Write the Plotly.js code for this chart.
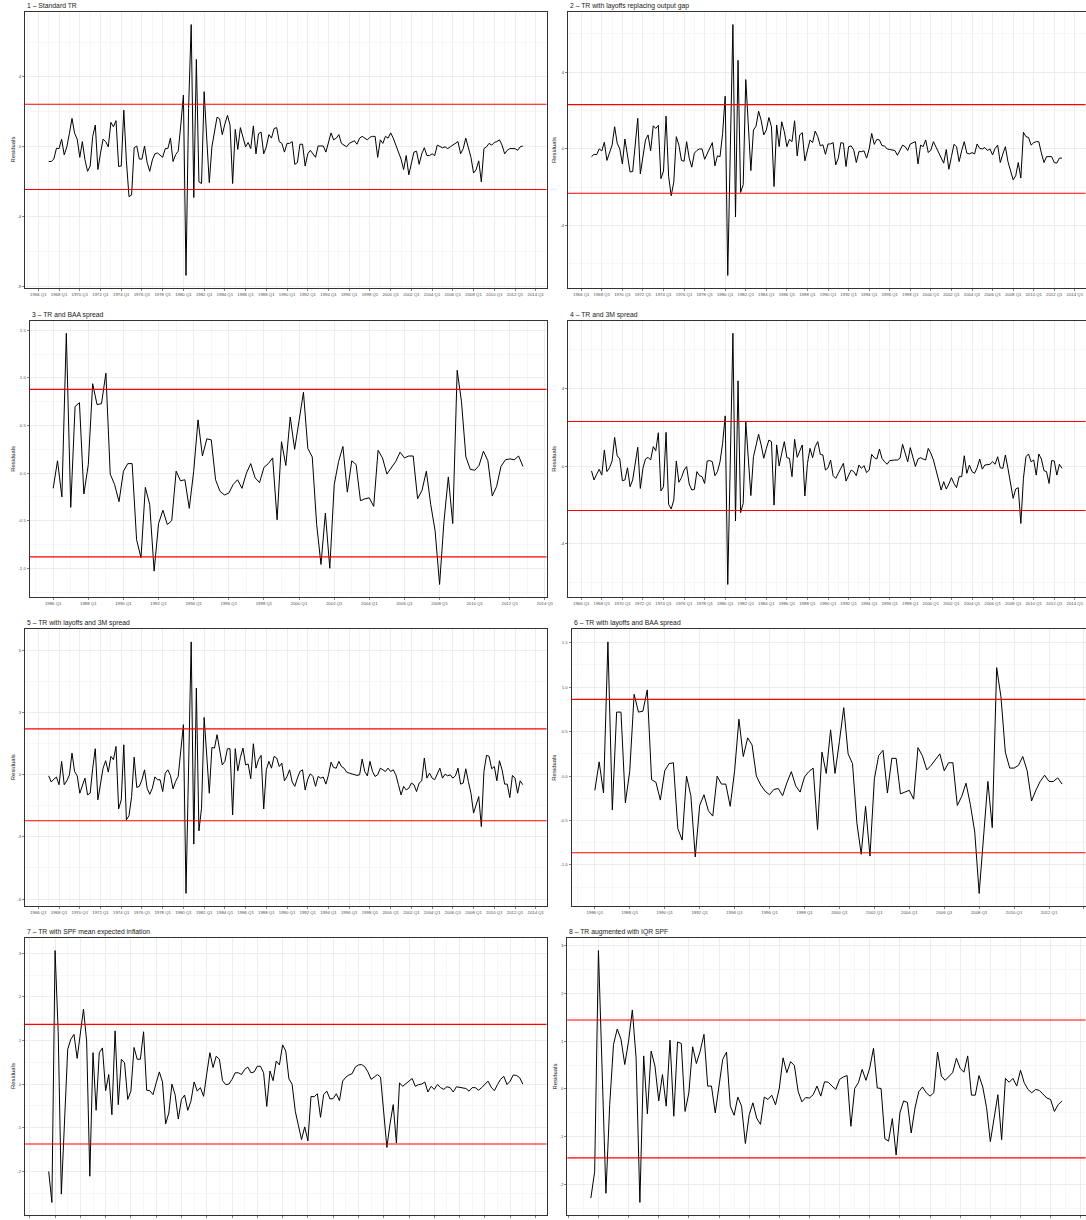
<!DOCTYPE html>
<html>
<head>
<meta charset="utf-8">
<script src="https://cdn.plot.ly/plotly-3.0.1.min.js"></script>
<style>
  html, body { margin: 0; padding: 0; background: #fff; }
  #chart { width: 1086px; height: 1220px; }
</style>
</head>
<body>
<div id="chart"></div>
<script>
// ---- Panel titles ----
const titles = [
  "1 \u2013 Standard TR",
  "2 \u2013 TR with layoffs replacing output gap",
  "3 \u2013 TR and BAA spread",
  "4 \u2013 TR and 3M spread",
  "5 \u2013 TR with layoffs and 3M spread",
  "6 \u2013 TR with layoffs and BAA spread",
  "7 \u2013 TR with SPF mean expected inflation",
  "8 \u2013 TR augmented with IQR SPF"
];

// ---- First quarter of each residual series ----
const startQuarters = ["1967 Q1", "1967 Q1", "1986 Q1", "1967 Q1", "1967 Q1", "1986 Q1", "1981 Q3", "1981 Q3"];

// ---- Residual series (quarterly) ----
const resid1 = [
  -0.84, -0.84, -0.7, -0.08,   -0.1, 0.44, -0.46, 0.0,   0.78, 1.63, 0.78, 0.44,
  -0.6, 0.3, -0.74, -1.4,      -1.1, 0.6, 1.25, -1.3,    -0.36, 0.44, 0.3, 0.0,
  1.4, 1.15, 1.5, -1.12,       -1.1, 2.1, -0.8, -2.85,   -2.75, -0.05, 0.05, -0.7,
  -0.7, 0.05, -0.9, -1.4,      -0.75, -0.4, -0.35, -0.45, -0.6, -0.1, -0.1, 0.5,
  -0.84, -0.45, -0.25, 1.25,   2.96, -7.36, 2.2, 7.0,    -2.9, 5.0, -2.0, -2.1,
  3.16, 0.5, -2.05, 0.0,       1.0, 1.7, 1.6, 0.7,       1.3, 1.8, 1.25, -2.1,
  1.0, -0.15, 1.1, 0.6,        0.0, 0.25, -0.1, 1.2,     -0.4, 0.75, 0.85, -0.4,
  0.0, 0.7, 0.5, 1.05,         1.1, 0.3, 0.2, -0.3,      0.2, 0.2, 0.3, -1.0,
  -0.9, 0.15, 0.15, -1.1,      -0.4, -0.2, -0.4, -0.6,   0.05, 0.05, 0.05, -0.3,
  0.2, 0.8, 0.4, 0.5,          0.7, 0.2, 0.1, 0.0,       0.2, 0.3, 0.35, 0.15,
  0.5, 0.6, 0.5, 0.4,          0.55, 0.6, 0.6, -0.6,     0.4, 0.2, 0.6, 0.5,
  0.8, 0.5, 0.1, -0.3,         -0.7, -1.3, -0.5, -1.6,   -0.9, -0.3, -0.25, -1.0,
  -0.4, -0.05, -0.5, -0.5,     -0.4, -0.5, 0.1, 0.0,     -0.05, 0.0, -0.1, 0.0,
  0.1, 0.2, 0.3, -0.4,         -0.1, 0.5, -0.05, -0.6,   -1.5, -1.3, -0.8, -2.0,
  -0.1, 0.0, 0.2, 0.1,         0.25, 0.3, 0.4, 0.1,      -0.4, -0.2, -0.1, -0.1,
  -0.1, -0.2, 0.0, 0.05
];

const resid2 = [
  -0.4, -0.28, -0.3, 0.0,      -0.1, 0.35, -0.6, -0.25,  0.2, 1.16, 0.3, 0.0,
  -0.78, 0.52, -0.36, -1.2,    -1.18, 0.3, 1.6, -1.3,    -0.4, 0.47, 0.73, -0.1,
  1.21, 1.07, 1.23, -1.55,     -1.15, 1.71, -1.43, -2.44, -1.73, 0.64, 0.2, -0.6,
  -0.64, 0.38, -0.48, -0.95,   -0.22, -0.08, 0.0, 0.0,   -0.54, -0.22, 0.05, 0.33,
  -0.88, -0.36, -0.4, 0.81,    2.75, -6.6, 0.0, 6.49,    -3.55, 4.62, -2.27, -1.87,
  3.62, 1.2, -1.13, 0.99,      1.19, 1.97, 1.5, 0.73,    0.99, 1.64, 1.16, -1.96,
  1.25, 0.12, 1.42, 0.9,       0.12, 0.5, 0.38, 1.47,    -0.36, 0.73, 0.85, -0.62,
  -0.14, 0.47, 0.33, 0.93,     0.64, 0.16, 0.22, -0.28,  0.26, 0.26, 0.33, -0.83,
  -0.48, 0.33, 0.3, -0.92,     0.12, 0.16, -0.05, -0.71, -0.14, -0.14, -0.1, -0.48,
  0.0, 0.81, 0.24, 0.5,        0.47, 0.17, 0.16, 0.0,    -0.03, -0.05, -0.08, -0.33,
  -0.05, 0.2, 0.12, -0.08,     0.26, 0.3, 0.38, -0.78,   0.2, 0.12, 0.47, -0.19,
  -0.05, 0.38, 0.12, -0.22,    -0.48, -0.74, -0.03, -1.06, -0.4, 0.24, 0.12, -0.66,
  -0.08, 0.38, -0.22, -0.26,   -0.19, -0.26, 0.26, 0.03, 0.0, 0.07, -0.08, 0.0,
  -0.31, 0.03, 0.2, -0.71,     -0.26, 0.12, -0.66, -1.13, -1.61, -1.4, -0.71, -1.52,
  0.87, 0.64, 0.6, 0.2,        0.33, 0.38, 0.38, -0.22,  -0.71, -0.4, -0.4, -0.4,
  -0.71, -0.74, -0.48, -0.48
];

const resid3 = [
  -0.16, 0.13, -0.25, 1.47,    -0.36, 0.70, 0.74, -0.22, 0.09, 0.94, 0.72, 0.73,
  1.05, -0.01, -0.12, -0.30,   0.02, 0.1, 0.1, -0.70,    -0.89, -0.15, -0.33, -1.03,
  -0.53, -0.39, -0.54, -0.5,   0.02, -0.08, -0.07, -0.37, 0.02, 0.56, 0.18, 0.36,
  0.35, -0.07, -0.19, -0.23,   -0.21, -0.12, -0.07, -0.16, 0.0, 0.1, -0.05, -0.1,
  0.06, 0.1, 0.16, -0.49,      0.33, 0.08, 0.59, 0.25,   0.55, 0.85, 0.26, 0.17,
  -0.54, -0.96, -0.42, -1.0,   -0.12, 0.12, 0.28, -0.2,  0.13, 0.09, -0.29, -0.27,
  -0.26, -0.35, 0.24, 0.16,    -0.01, 0.06, 0.12, 0.22,  0.16, 0.18, 0.18, -0.27,
  -0.18, 0.02, -0.33, -0.61,   -1.17, -0.51, -0.04, -0.53, 1.08, 0.75, 0.17, 0.04,
  0.03, 0.08, 0.23, 0.13,      -0.24, -0.14, 0.07, 0.14, 0.15, 0.14, 0.18, 0.07
];

const resid4 = [
  -0.26, -0.72, -0.43, -0.17,  -0.47, 0.83, -0.29, -0.09, 0.26, 1.48, 0.53, 0.36,
  -0.76, -0.72, -0.09, -1.07,  -0.72, 0.22, 0.97, -1.16, -0.12, 0.36, 0.45, 0.31,
  1.0, 0.79, 1.72, -1.29,      -1.07, 1.74, -1.98, -2.22, -1.76, 0.26, -0.84, -0.6,
  -0.21, -0.03, -0.93, -1.24,  -1.21, -0.29, -0.5, -0.55, -0.9, 0.26, 0.28, 0.22,
  -0.5, -0.29, 0.22, 1.17,     2.59, -6.12, 0.5, 6.86,   -2.84, 4.4, -2.41, -1.93,
  2.29, 0.4, -1.53, 0.48,      1.09, 1.64, 1.09, 0.4,    0.91, 1.34, 1.26, -2.02,
  1.09, 0.0, 0.66, 1.26,       0.43, 0.4, -0.55, 1.38,   0.45, 0.74, 1.09, -1.55,
  0.14, 0.91, 0.43, 1.0,       1.26, 0.6, 0.57, -0.21,   -0.09, 0.31, -0.5, -0.64,
  -0.38, -0.09, 0.14, -0.78,   -0.5, -0.21, -0.29, -0.5, 0.05, -0.12, 0.02, -0.34,
  -0.21, 0.6, 0.43, 0.36,      0.88, 0.4, 0.22, 0.09,    0.28, 0.31, 0.31, 0.31,
  0.4, 1.12, 0.6, 0.22,        0.95, 0.48, -0.02, 0.36,  0.43, 0.36, 0.31, 0.91,
  0.66, 0.31, -0.16, -0.72,    -1.24, -0.81, -1.19, -0.93, -0.6, -0.9, -1.12, -0.55,
  -0.55, 0.53, -0.38, 0.05,    -0.29, -0.38, -0.09, 0.36, -0.16, 0.05, 0.09, 0.09,
  0.22, 0.09, 0.48, -0.09,     -0.12, 0.57, -0.12, -0.98, -1.67, -1.19, -1.12, -2.97,
  -0.64, 0.48, 0.62, 0.22,     0.31, -0.47, 0.62, 0.36,  -0.24, -0.29, -0.9, 0.28,
  0.26, -0.47, 0.09, -0.12
];

const resid5 = [
  -0.05, -0.35, -0.21, -0.11,  -0.48, 0.65, -0.48, -0.29, 0.0, 1.05, 0.16, -0.05,
  -0.89, -0.48, -0.16, -0.97,  -0.89, 0.32, 1.26, -1.21, -0.32, 0.32, 0.68, 0.13,
  0.89, 0.73, 1.37, -1.65,     -1.21, 1.45, -2.18, -1.97, -1.05, 0.85, -0.61, -0.56,
  -0.24, 0.24, -0.65, -0.94,   -0.65, -0.1, -0.24, -0.24, -0.81, 0.08, 0.24, -0.03,
  -0.68, -0.32, -0.08, 1.13,   2.42, -5.73, 0.2, 6.42,   -3.35, 4.19, -2.71, -1.61,
  2.77, 1.13, -0.89, 1.32,     1.29, 1.94, 1.13, 0.48,   0.65, 1.26, 1.26, -1.94,
  1.26, 0.19, 0.84, 1.29,      0.48, 0.52, -0.19, 1.5,   0.32, 0.73, 0.94, -1.65,
  0.24, 0.65, 0.32, 0.89,      0.81, 0.4, 0.56, -0.29,   -0.08, 0.24, -0.35, -0.56,
  -0.16, 0.16, 0.24, -0.73,    -0.21, 0.05, -0.08, -0.56, -0.08, -0.16, -0.11, -0.45,
  0.0, 0.61, 0.35, 0.32,       0.65, 0.4, 0.32, 0.13,    0.08, 0.05, 0.0, -0.03,
  0.0, 0.76, 0.16, -0.05,      0.65, 0.16, -0.08, 0.0,   0.32, 0.24, 0.16, 0.32,
  0.16, 0.24, 0.0, -0.48,      -0.97, -0.56, -0.73, -0.65, -0.4, -0.48, -0.81, -0.4,
  -0.29, 0.81, -0.16, 0.08,    -0.16, -0.24, 0.08, 0.32, -0.16, 0.03, -0.05, 0.0,
  -0.16, -0.05, 0.32, -0.45,   -0.4, 0.29, -0.32, -0.89, -1.85, -1.45, -1.05, -2.5,
  0.16, 0.94, 0.89, 0.29,      0.4, -0.29, 0.68, 0.24,   -0.45, -0.45, -1.1, -0.03,
  -0.16, -0.89, -0.29, -0.48
];

const resid6 = [
  -0.16, 0.16, -0.19, 1.51,    -0.38, 0.72, 0.72, -0.3,  0.06, 0.92, 0.72, 0.73,
  0.97, -0.04, -0.07, -0.27,   0.06, 0.14, 0.15, -0.59,  -0.72, 0.0, -0.22, -0.91,
  -0.33, -0.21, -0.39, -0.45,  0.0, -0.09, -0.09, -0.34, 0.06, 0.64, 0.22, 0.43,
  0.35, 0.0, -0.1, -0.17,      -0.21, -0.15, -0.14, -0.22, -0.07, 0.05, -0.11, -0.18,
  -0.01, 0.05, 0.09, -0.6,     0.27, 0.03, 0.52, 0.03,   0.39, 0.77, 0.25, 0.14,
  -0.53, -0.88, -0.34, -0.9,   -0.03, 0.23, 0.29, -0.19, 0.2, 0.2, -0.2, -0.18,
  -0.16, -0.26, 0.32, 0.23,    0.07, 0.12, 0.18, 0.25,   0.06, 0.15, 0.15, -0.33,
  -0.23, -0.08, -0.32, -0.63,  -1.32, -0.7, -0.06, -0.58, 1.22, 0.89, 0.27, 0.09,
  0.09, 0.12, 0.22, 0.06,      -0.28, -0.16, -0.06, 0.01, -0.06, -0.06, -0.02, -0.09
];

const resid7 = [
  -2.0, -2.71,
  3.06, 1.2, -2.52, -0.8,      0.8, 1.03, 1.14, 0.59,    1.14, 1.72, 0.99, -2.11,
  0.72, -0.6, 0.72, 0.83,      -0.15, 0.22, -0.7, 1.22,  -0.47, 0.57, 0.49, -0.35,
  -0.16, 0.84, 0.57, 0.57,     1.2, -0.14, -0.15, -0.24, 0.03, 0.28, 0.05, -0.91,
  -0.66, 0.0, -0.24, -0.8,     -0.35, -0.25, -0.6, -0.39, 0.05, -0.16, -0.08, -0.28,
  0.24, 0.72, 0.38, 0.64,      0.57, 0.08, -0.01, 0.0,   0.11, 0.26, 0.26, 0.22,
  0.34, 0.39, 0.26, 0.28,      0.41, 0.41, 0.26, -0.51,  0.3, 0.08, 0.53, 0.44,
  0.9, 0.76, 0.12, 0.0,        -0.62, -0.93, -1.27, -0.98, -1.3, -0.28, -0.29, -0.22,
  -0.76, -0.24, -0.16, -0.34,  -0.33, -0.22, -0.38, 0.07, 0.16, 0.21, 0.24, 0.39,
  0.44, 0.45, 0.4, 0.28,       0.11, 0.16, 0.22, 0.16,   -0.58, -1.45, -0.91, -0.47,
  -1.35, 0.03, -0.05, 0.0,     0.07, 0.13, -0.05, -0.01, 0.0, 0.05, -0.18, -0.05,
  -0.12, -0.01, -0.08, -0.12,  -0.06, -0.08, -0.18, -0.06, -0.07, -0.08, -0.1, -0.16,
  -0.08, -0.08, -0.14, -0.08,  -0.01, 0.07, -0.07, -0.15, -0.01, 0.11, 0.18, -0.01,
  0.07, 0.21, 0.2, 0.15,
  0.0
];

const resid8 = [
  -2.28, -1.73,
  2.89, 0.4, -2.18, -0.33,     0.93, 1.25, 1.04, 0.51,   1.0, 1.65, 0.65, -2.37,
  0.69, -0.52, 0.79, 0.48,     -0.25, 0.3, -0.36, 1.02,  -0.57, 0.98, 0.95, -0.47,
  -0.08, 0.88, 0.53, 0.79,     1.14, 0.06, 0.06, -0.5,   0.02, 0.62, 0.77, -0.36,
  -0.55, -0.17, -0.36, -1.14,  -0.54, -0.29, -0.61, -0.74, -0.17, -0.22, -0.13, -0.33,
  0.02, 0.65, 0.34, 0.57,      0.49, -0.05, -0.27, -0.18, -0.19, -0.12, 0.06, -0.15,
  0.15, 0.14, 0.06, -0.01,     0.2, 0.25, 0.28, -0.78,   0.01, 0.13, 0.41, 0.18,
  0.44, 0.85, 0.02, 0.01,      -1.04, -1.09, -0.62, -1.38, -0.5, -0.25, -0.28, -0.92,
  -0.4, -0.06, 0.04, -0.08,    -0.15, -0.08, 0.77, 0.27, 0.18, 0.25, 0.34, 0.64,
  0.43, 0.35, 0.69, -0.13,     -0.13, 0.28, 0.04, -0.39, -1.1, -0.61, -0.12, -1.06,
  0.22, 0.14, 0.22, 0.06,      0.39, 0.13, -0.01, -0.08, -0.01, -0.03, -0.12, -0.19,
  -0.22, -0.47, -0.33, -0.25
];

// ---- Red threshold bands (drawn at +/- value) ----
const bands = [2.44, 2.31, 0.88, 2.30, 2.22, 0.863, 1.37, 1.44];

// ---- X tick years (labelled "YYYY Q1") ----
const xTicks1966 = [1966,1968,1970,1972,1974,1976,1978,1980,1982,1984,1986,1988,1990,1992,1994,1996,1998,2000,2002,2004,2006,2008,2010,2012,2014];
const xTicks1986 = [1986,1988,1990,1992,1994,1996,1998,2000,2002,2004,2006,2008,2010,2012,2014];
const xTicks1980to2020 = [1980,1982,1984,1986,1988,1990,1992,1994,1996,1998,2000,2002,2004,2006,2008,2010,2012,2014,2016,2018,2020];
const xTicks1980to2014 = [1980,1982,1984,1986,1988,1990,1992,1994,1996,1998,2000,2002,2004,2006,2008,2010,2012,2014];

// ---- Y tick values ----
const yTicks1 = [-8, -4, 0, 4];
const yTicks2 = [-4, 0, 4];
const yTicks3 = [-1.0, -0.5, 0.0, 0.5, 1.0, 1.5];
const yTicks4 = [-4, 0, 4];
const yTicks5 = [-6, -3, 0, 3, 6];
const yTicks6 = [-1.0, -0.5, 0.0, 0.5, 1.0, 1.5];
const yTicks7 = [-2, -1, 0, 1, 2, 3];
const yTicks8 = [-2, -1, 0, 1, 2, 3];

const series = [resid1, resid2, resid3, resid4, resid5, resid6, resid7, resid8];
const xTickSets = [xTicks1966, xTicks1966, xTicks1986, xTicks1966, xTicks1966, xTicks1986, xTicks1980to2020, xTicks1980to2014];
const yTickSets = [yTicks1, yTicks2, yTicks3, yTicks4, yTicks5, yTicks6, yTicks7, yTicks8];
const yDecimals = [0, 0, 1, 0, 0, 1, 0, 0];

// ---- Page geometry (pixels): [left, right, top, bottom] of each panel box ----
const W = 1086, H = 1220;
const boxes = [
  [25, 546.5, 12, 288],     [568, 1085.5, 12, 288],
  [29.7, 546.5, 320.7, 597], [568, 1085.5, 320.7, 597],
  [25, 546.5, 629.3, 906],  [571.5, 1085.5, 629.3, 906],
  [25, 546.5, 938, 1215],   [567.3, 1085.5, 938, 1215]
];
const yTitleX = [12.5, 554, 13, 554, 12.5, 554, 12.5, 554];

const FONT = "Liberation Sans, Arial, Helvetica, sans-serif";

function quarterDates(startLabel, n) {
  const parts = startLabel.split(" Q");
  let y = +parts[0], q = +parts[1];
  const out = [];
  for (let i = 0; i < n; i++) {
    out.push(y + "-" + String((q - 1) * 3 + 1).padStart(2, "0") + "-01");
    q++;
    if (q > 4) { q = 1; y++; }
  }
  return out;
}
const toMs = s => Date.parse(s + "T00:00:00Z");

const traces = [];
const layout = {
  width: W, height: H,
  margin: {l: 0, r: 0, t: 0, b: 0, pad: 0},
  paper_bgcolor: "#ffffff", plot_bgcolor: "#ffffff",
  showlegend: false, hovermode: false,
  font: {family: FONT, color: "#1a1a1a"},
  annotations: [], shapes: []
};

series.forEach((vals, i) => {
  const s = i === 0 ? "" : String(i + 1);
  const [L, R, T, B] = boxes[i];
  const x = quarterDates(startQuarters[i], vals.length);

  // ranges padded by 5% of the data span on each side
  const x0 = toMs(x[0]), x1 = toMs(x[x.length - 1]);
  const xr = [x0 - 0.05 * (x1 - x0), x1 + 0.05 * (x1 - x0)];
  const vmin = Math.min(...vals), vmax = Math.max(...vals);
  const yr = [vmin - 0.05 * (vmax - vmin), vmax + 0.05 * (vmax - vmin)];

  const majors = xTickSets[i];
  const startYear = new Date(xr[0]).getUTCFullYear();
  const endYear = new Date(xr[1]).getUTCFullYear() + 1;
  const minorX = [];
  for (let yv = startYear; yv <= endYear; yv++) {
    if (majors.indexOf(yv) < 0) minorX.push(yv + "-01-01");
  }

  const yt = yTickSets[i];
  const step = yt[1] - yt[0];
  const minorY = [];
  for (let k = -20; k <= 20; k++) {
    const v = yt[0] + step * (k + 0.5);
    if (v > yr[0] && v < yr[1]) minorY.push(v);
  }

  traces.push({
    type: "scatter", mode: "lines",
    x: x, y: vals,
    xaxis: "x" + s, yaxis: "y" + s,
    line: {color: "#000000", width: 1},
    hoverinfo: "skip"
  });

  layout["xaxis" + s] = {
    domain: [L / W, R / W], anchor: "y" + s,
    type: "date", range: xr, fixedrange: true,
    tickmode: "array",
    tickvals: majors.map(yv => yv + "-01-01"),
    ticktext: majors.map(yv => yv + " Q1"),
    tickangle: 0,
    ticks: "outside", ticklen: 2, tickwidth: 0.6, tickcolor: "#333333",
    tickfont: {family: FONT, size: 4.3, color: "#4D4D4D"},
    showgrid: true, gridcolor: "#EBEBEB", gridwidth: 0.9,
    minor: {tickmode: "array", tickvals: minorX, showgrid: true, gridcolor: "#F2F2F2", gridwidth: 0.6, ticks: ""},
    showline: true, mirror: true, linecolor: "#333333", linewidth: 1,
    zeroline: false
  };

  layout["yaxis" + s] = {
    domain: [1 - B / H, 1 - T / H], anchor: "x" + s,
    range: yr, fixedrange: true,
    tickmode: "array",
    tickvals: yt,
    ticktext: yt.map(v => v.toFixed(yDecimals[i])),
    ticks: "outside", ticklen: 2, tickwidth: 0.6, tickcolor: "#333333",
    tickfont: {family: FONT, size: 4.3, color: "#4D4D4D"},
    showgrid: true, gridcolor: "#EBEBEB", gridwidth: 0.9,
    minor: {tickmode: "array", tickvals: minorY, showgrid: true, gridcolor: "#F2F2F2", gridwidth: 0.6, ticks: ""},
    showline: true, mirror: true, linecolor: "#333333", linewidth: 1,
    zeroline: false
  };

  // threshold lines
  [bands[i], -bands[i]].forEach(v => {
    layout.shapes.push({
      type: "line", xref: "x" + s + " domain", x0: 0, x1: 1,
      yref: "y" + s, y0: v, y1: v,
      line: {color: "#FF0000", width: 1.1}
    });
  });

  // panel title
  layout.annotations.push({
    xref: "paper", yref: "paper",
    x: L / W, y: 1 - (T - 6.2) / H,
    xanchor: "left", yanchor: "middle",
    text: titles[i], showarrow: false,
    font: {family: FONT, size: 6.8, color: "#1a1a1a"}
  });

  // y-axis title
  layout.annotations.push({
    xref: "paper", yref: "paper",
    x: yTitleX[i] / W, y: 1 - ((T + B) / 2) / H,
    xanchor: "center", yanchor: "middle",
    text: "Residuals", textangle: -90, showarrow: false,
    font: {family: FONT, size: 5.9, color: "#1a1a1a"}
  });
});

Plotly.newPlot("chart", traces, layout, {displayModeBar: false, staticPlot: true, responsive: false});
</script>
</body>
</html>
